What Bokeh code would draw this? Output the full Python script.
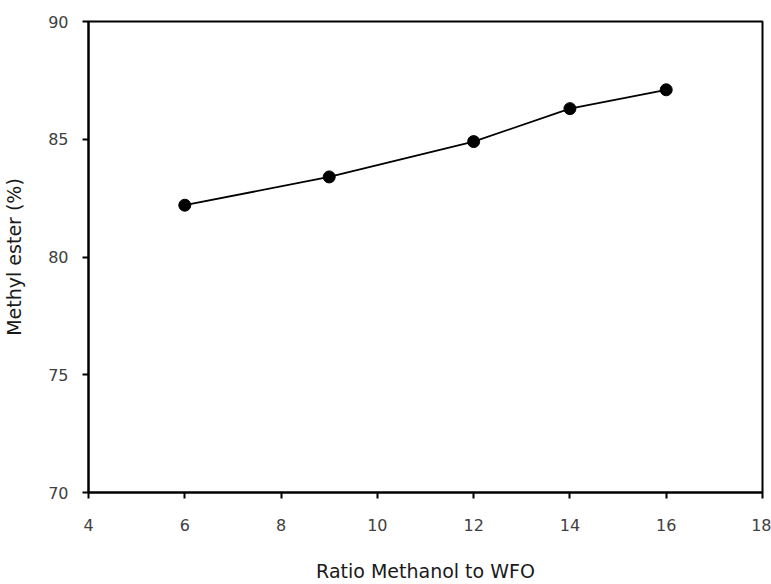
from bokeh.plotting import figure
from bokeh.embed import file_html
from bokeh.resources import INLINE
from bokeh.models import Range1d, FixedTicker

ratio = [6, 9, 12, 14, 16]
methyl_ester = [82.2, 83.4, 84.9, 86.3, 87.1]
x_ticks = [4, 6, 8, 10, 12, 14, 16, 18]
y_ticks = [70, 75, 80, 85, 90]

p = figure(width=771, height=584, output_backend="svg", toolbar_location=None,
           x_range=Range1d(4, 18), y_range=Range1d(70, 90),
           min_border_left=88, min_border_top=21, min_border_right=9, min_border_bottom=91)
p.xgrid.visible = False
p.ygrid.visible = False
p.outline_line_color = "black"
p.outline_line_width = 2
p.outline_line_alpha = 1

p.line(ratio, methyl_ester, line_color="black", line_width=1.8)
p.scatter(ratio, methyl_ester, size=12, fill_color="black", line_color="black")

for ax in (p.xaxis[0], p.yaxis[0]):
    ax.axis_line_color = "black"
    ax.axis_line_width = 2
    ax.major_tick_line_color = "black"
    ax.major_tick_line_width = 2
    ax.major_tick_out = 6
    ax.major_tick_in = 0
    ax.minor_tick_out = 0
    ax.minor_tick_in = 0
    ax.major_label_text_font = "DejaVu Sans"
    ax.major_label_text_font_size = "16px"
    ax.major_label_text_color = "#404040"
    ax.axis_label_text_font = "DejaVu Sans"
    ax.axis_label_text_font_style = "normal"
    ax.axis_label_text_color = "#1a1a1a"

p.xaxis.axis_label_text_font_size = "19px"
p.yaxis.axis_label_text_font_size = "19px"
p.xaxis.ticker = FixedTicker(ticks=x_ticks)
p.yaxis.ticker = FixedTicker(ticks=y_ticks)
p.xaxis.axis_label = "Ratio Methanol to WFO"
p.yaxis.axis_label = "Methyl ester (%)"
p.xaxis.major_label_standoff = 20
p.yaxis.major_label_standoff = 14
p.xaxis.axis_label_standoff = 26
p.yaxis.axis_label_standoff = 20

open("out.html", "w").write(file_html(p, INLINE))
